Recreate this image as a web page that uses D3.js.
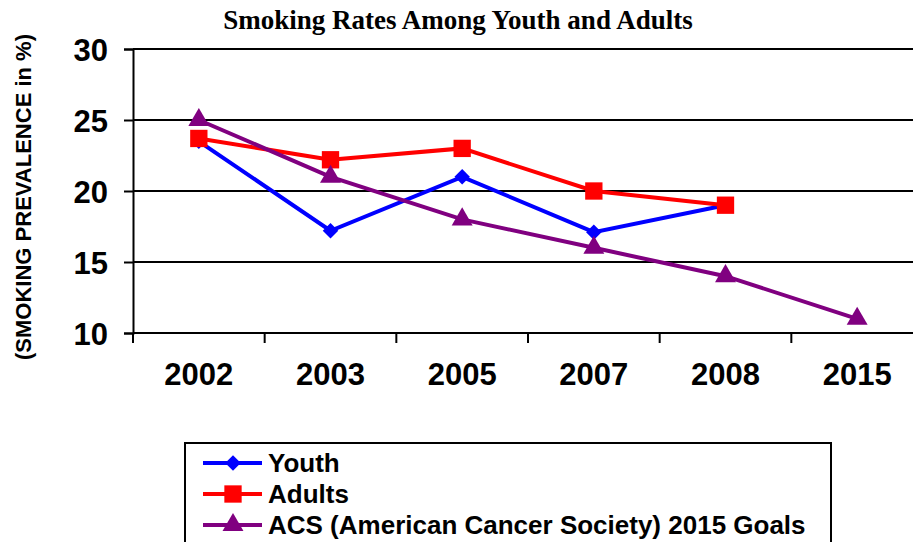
<!DOCTYPE html>
<html>
<head>
<meta charset="utf-8">
<script src="https://cdn.jsdelivr.net/npm/d3@7"></script>
<style>
  body { margin: 0; background: #fff; overflow: hidden; }
  svg { display: block; }
</style>
</head>
<body>
<script>
// chart values
let years = ['2002', '2003', '2005', '2007', '2008', '2015'];
let youth = [23.5, 17.2, 21.0, 17.1, 19.0, null];
let adults = [23.7, 22.2, 23.0, 20.0, 19.0, null];
let acsGoals = [25, 21, 18, 16, 14, 11];
let yTicks = [10, 15, 20, 25, 30];
let seriesNames = ['Youth', 'Adults', 'ACS (American Cancer Society) 2015 Goals'];

let width = 913, height = 542;
let plot = { left: 133, right: 923, top: 49, bottom: 333 };

let svg = d3.select('body').append('svg')
    .attr('width', width)
    .attr('height', height);

let x = d3.scaleBand()
    .domain(years)
    .range([plot.left, plot.right]);

let y = d3.scaleLinear()
    .domain([10, 30])
    .range([plot.bottom, plot.top]);

// title
svg.append('text')
    .attr('x', 458)
    .attr('y', 29)
    .attr('text-anchor', 'middle')
    .style('font-family', '"Liberation Serif", "Times New Roman", serif')
    .style('font-weight', 'bold')
    .style('font-size', '27px')
    .text('Smoking Rates Among Youth and Adults');

// gridlines
svg.append('g')
    .selectAll('line')
    .data(yTicks.filter(d => d > 10))
    .enter().append('line')
    .attr('x1', plot.left)
    .attr('x2', plot.right)
    .attr('y1', d => y(d))
    .attr('y2', d => y(d))
    .attr('stroke', '#000')
    .attr('stroke-width', 2);

// y axis
let yAxis = svg.append('g')
    .attr('transform', 'translate(' + plot.left + ',0)')
    .call(d3.axisLeft(y).tickValues(yTicks).tickSize(9).tickPadding(16));
yAxis.select('.domain').attr('stroke-width', 2);
yAxis.selectAll('line').attr('stroke-width', 2);
yAxis.selectAll('text')
    .style('font-family', '"Liberation Sans", Arial, sans-serif')
    .style('font-weight', 'bold')
    .style('font-size', '31px')
    .attr('dy', '0.36em');

// x axis
let xAxis = svg.append('g')
    .attr('transform', 'translate(0,' + plot.bottom + ')')
    .call(d3.axisBottom(x).tickSize(0).tickPadding(30));
xAxis.select('.domain').attr('stroke-width', 2).attr('d', 'M' + plot.left + ',0H' + plot.right);
xAxis.selectAll('text')
    .style('font-family', '"Liberation Sans", Arial, sans-serif')
    .style('font-weight', 'bold')
    .style('font-size', '31px');

// tick marks between categories
svg.append('g')
    .selectAll('line')
    .data(years)
    .enter().append('line')
    .attr('x1', d => x(d))
    .attr('x2', d => x(d))
    .attr('y1', plot.bottom)
    .attr('y2', plot.bottom + 10)
    .attr('stroke', '#000')
    .attr('stroke-width', 2);

// y axis title
svg.append('text')
    .attr('transform', 'translate(31,197) rotate(-90)')
    .attr('text-anchor', 'middle')
    .style('font-family', '"Liberation Sans", Arial, sans-serif')
    .style('font-weight', 'bold')
    .style('font-size', '22px')
    .text('(SMOKING PREVALENCE in %)');

let series = [
    { name: seriesNames[0], values: youth, color: '#0000ff', shape: d3.symbolSquare, size: 120, rot: 45 },
    { name: seriesNames[1], values: adults, color: '#ff0000', shape: d3.symbolSquare, size: 300, rot: 0 },
    { name: seriesNames[2], values: acsGoals, color: '#800080', shape: d3.symbolTriangle, size: 190, rot: 0 }
];

let cx = d => x(d) + x.bandwidth() / 2;

let line = d3.line()
    .defined(d => d.v != null)
    .x(d => cx(d.year))
    .y(d => y(d.v));

series.forEach(s => {
    let pts = years.map((yr, i) => ({ year: yr, v: s.values[i] }));
    svg.append('path')
        .datum(pts)
        .attr('d', line)
        .attr('fill', 'none')
        .attr('stroke', s.color)
        .attr('stroke-width', 4);
    svg.append('g')
        .selectAll('path')
        .data(pts.filter(d => d.v != null))
        .enter().append('path')
        .attr('transform', d => 'translate(' + cx(d.year) + ',' + y(d.v) + ') rotate(' + s.rot + ')')
        .attr('d', d3.symbol().type(s.shape).size(s.size))
        .attr('fill', s.color);
});

// legend
let legend = svg.append('g');
legend.append('rect')
    .attr('x', 185)
    .attr('y', 443)
    .attr('width', 646)
    .attr('height', 120)
    .attr('fill', 'none')
    .attr('stroke', '#000')
    .attr('stroke-width', 2);

let rowY = [463, 494, 525];
series.forEach((s, i) => {
    let row = legend.append('g').attr('transform', 'translate(0,' + rowY[i] + ')');
    row.append('line')
        .attr('x1', 203).attr('x2', 262)
        .attr('stroke', s.color)
        .attr('stroke-width', 4);
    row.append('path')
        .attr('transform', 'translate(233,0) rotate(' + s.rot + ')')
        .attr('d', d3.symbol().type(s.shape).size(s.size))
        .attr('fill', s.color);
    row.append('text')
        .attr('x', 268)
        .attr('dy', '0.36em')
        .style('font-family', '"Liberation Sans", Arial, sans-serif')
        .style('font-weight', 'bold')
        .style('font-size', '26px')
        .text(s.name);
});
</script>
</body>
</html>
